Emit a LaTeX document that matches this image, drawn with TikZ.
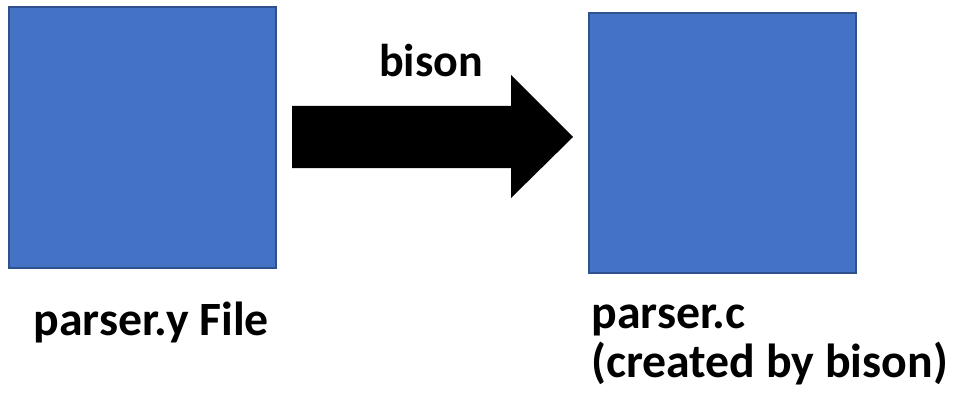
\documentclass[tikz,border=0pt]{standalone}
\usepackage{fontspec}
\setmainfont{Carlito}
\definecolor{boxblue}{HTML}{4472C4}
\definecolor{boxedge}{HTML}{2F528F}
\newcommand{\lblfont}{\fontsize{27.2}{29}\selectfont\bfseries}
\newcommand{\toolfont}{\fontsize{26.2}{28}\selectfont\bfseries}

\begin{document}
\begin{tikzpicture}[x=0.02cm,y=-0.02cm,
  srcbox/.style={fill=boxblue,draw=boxedge,line width=0.04cm},
  outbox/.style={fill=boxblue,draw=boxedge,line width=0.025cm},
  lbl/.style={font=\lblfont,inner sep=0pt,anchor=base west}]
   \useasboundingbox (0,0) rectangle (956,395);
   \filldraw[srcbox] (9,7) rectangle (276,268);
   \filldraw[outbox] (589,13) rectangle (856,273);
   \fill[black] (292,106) -- (511,106) -- (511,75) -- (573,137)
     -- (511,198) -- (511,168) -- (292,168) -- cycle;
   \node[lbl,font=\toolfont,anchor=base] (tool) at (431,77) {bison};
   \node[lbl] (yfile) at (33,335) {parser.y File};
   \node[lbl] (cfile) at (591,328) {parser.c};
   \node[lbl] (cnote) at (591,377) {(created by bison)};
  \end{tikzpicture}
\end{document}
